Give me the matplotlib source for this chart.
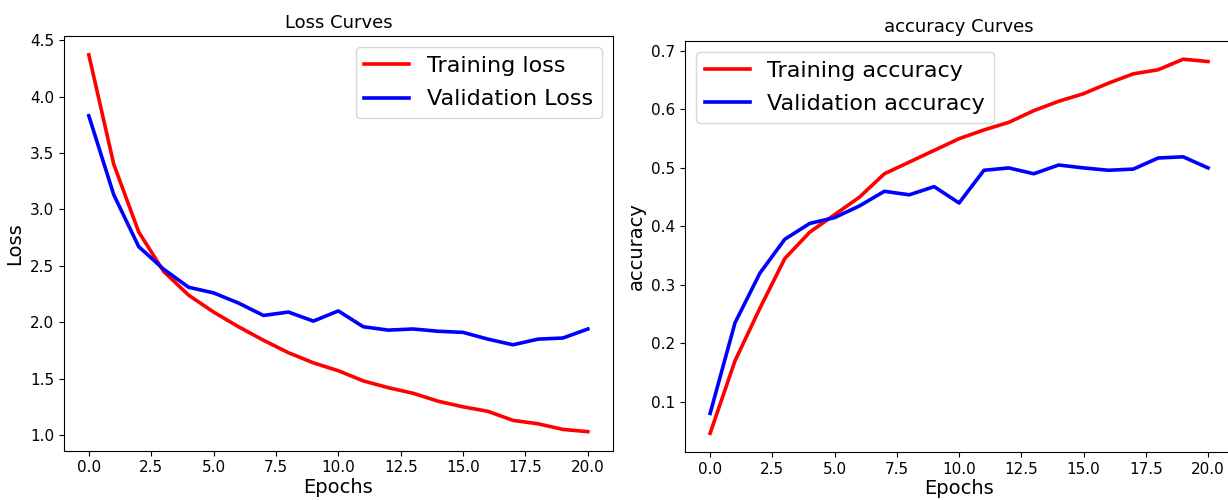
import numpy as np
import matplotlib
matplotlib.use("Agg")
import matplotlib.pyplot as plt

epochs = np.arange(21)

train_loss = [4.37, 3.40, 2.80, 2.45, 2.24, 2.09, 1.96, 1.84, 1.73, 1.64, 1.57,
              1.48, 1.42, 1.37, 1.30, 1.25, 1.21, 1.13, 1.10, 1.05, 1.03]
val_loss = [3.83, 3.13, 2.67, 2.47, 2.31, 2.26, 2.17, 2.06, 2.09, 2.01, 2.10,
            1.96, 1.93, 1.94, 1.92, 1.91, 1.85, 1.80, 1.85, 1.86, 1.94]

train_acc = [0.046, 0.17, 0.26, 0.345, 0.39, 0.42, 0.45, 0.49, 0.51, 0.53, 0.55,
             0.565, 0.578, 0.598, 0.614, 0.627, 0.645, 0.661, 0.668, 0.686, 0.682]
val_acc = [0.08, 0.235, 0.32, 0.378, 0.405, 0.415, 0.435, 0.46, 0.454, 0.468, 0.44,
           0.496, 0.50, 0.49, 0.505, 0.50, 0.496, 0.498, 0.517, 0.519, 0.50]

fig = plt.figure(figsize=(12.28, 5), dpi=100)
ax1 = fig.add_axes([0.052, 0.099, 0.447, 0.829])
ax2 = fig.add_axes([0.558, 0.096, 0.446, 0.823])

# loss
ax1.plot(epochs, train_loss, color='red', lw=2.6, label='Training loss')
ax1.plot(epochs, val_loss, color='blue', lw=2.6, label='Validation Loss')
ax1.set_title('Loss Curves', fontsize=13)
ax1.set_xlabel('Epochs', fontsize=14, labelpad=2)
ax1.set_ylabel('Loss', fontsize=14)
ax1.legend(loc='upper right', fontsize=16, labelspacing=0.6)

# accuracy
ax2.plot(epochs, train_acc, color='red', lw=2.6, label='Training accuracy')
ax2.plot(epochs, val_acc, color='blue', lw=2.6, label='Validation accuracy')
ax2.set_title('accuracy Curves', fontsize=13)
ax2.set_xlabel('Epochs', fontsize=14, labelpad=2)
ax2.set_ylabel('accuracy', fontsize=14)
ax2.legend(loc='upper left', fontsize=16, labelspacing=0.6)

for ax in (ax1, ax2):
    ax.tick_params(labelsize=11)

fig.savefig('out.png', dpi=100)
